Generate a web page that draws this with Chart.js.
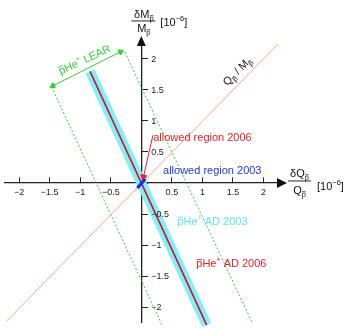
<!DOCTYPE html>
<html>
<head>
<meta charset="utf-8">
<script src="https://cdn.jsdelivr.net/npm/chart.js@4/dist/chart.umd.min.js"></script>
<style>
html,body{margin:0;padding:0;background:#fff;}
canvas{display:block;}
</style>
</head>
<body>
<canvas id="c" width="354" height="328"></canvas>
<script>
// ---- data ----
const xTicks = [-2, -1.5, -1, -0.5, 0, 0.5, 1, 1.5, 2];
const xTickLabels = ['−2', '−1.5', '−1', '−0.5', '', '0.5', '1', '1.5', '2'];
const yTicks = [-2, -1.5, -1, -0.5, 0, 0.5, 1, 1.5, 2];
const yTickLabels = ['−2', '−1.5', '−1', '−0.5', '', '0.5', '1', '1.5', '2'];

const qmLineX = [-2.21, 2.24];
const qmLineY = [-2.23, 2.24];
const ad2006X = [-0.84, 1.07];
const ad2006Y = [1.80, -2.29];
const learLeftX = [-1.47, 0.34];
const learLeftY = [1.55, -2.29];
const learRightX = [-0.27, 1.82];
const learRightY = [2.11, -2.26];
const learArrowX = [-1.45, -0.34];
const learArrowY = [1.565, 2.115];
const allowed2003X = [-0.065, 0.065];
const allowed2003Y = [-0.08, 0.065];
const pointer2006X = [0.19, 0.035];
const pointer2006Y = [0.77, 0.10];

const pts = (xs, ys) => xs.map((x, i) => ({x: x, y: ys[i]}));

const FONT = '"Liberation Sans", Arial, Helvetica, sans-serif';

function rich(ctx, segs, x, y, align) {
  let w = 0;
  for (const g of segs) {
    ctx.font = g.s + 'px ' + FONT;
    g.w = ctx.measureText(g.t).width;
    w += g.w;
  }
  let cx = align === 'center' ? x - w / 2 : x;
  for (const g of segs) {
    const dy = g.dy || 0;
    ctx.font = g.s + 'px ' + FONT;
    ctx.fillText(g.t, cx, y + dy);
    if (g.bar) {
      ctx.fillRect(cx + g.w * 0.08, y + dy - g.s * 0.74, g.w * 0.84, Math.max(0.8, g.s * 0.08));
    }
    cx += g.w;
  }
  return w;
}

const overlay = {
  id: 'overlay',
  afterDraw(chart) {
    const ctx = chart.ctx;
    const xs = chart.scales.x, ys = chart.scales.y;
    const X = v => xs.getPixelForValue(v), Y = v => ys.getPixelForValue(v);
    const x0 = X(0), y0 = Y(0);
    ctx.save();
    // axis arrows
    ctx.fillStyle = '#111';
    const ca = chart.chartArea;
    ctx.beginPath();
    ctx.moveTo(ca.right - 3, y0 - 5);
    ctx.lineTo(ca.right + 7, y0);
    ctx.lineTo(ca.right - 3, y0 + 5);
    ctx.closePath(); ctx.fill();
    ctx.beginPath();
    ctx.moveTo(x0 - 4.5, ca.top + 2);
    ctx.lineTo(x0, ca.top - 8);
    ctx.lineTo(x0 + 4.5, ca.top + 2);
    ctx.closePath(); ctx.fill();

    // y tick labels
    ctx.fillStyle = '#222';
    ctx.font = '9px ' + FONT;
    ctx.textAlign = 'left';
    ctx.textBaseline = 'middle';
    yTicks.forEach((v, i) => {
      if (yTickLabels[i]) ctx.fillText(yTickLabels[i], x0 + 10, Y(v) + 0.5);
    });

    ctx.textBaseline = 'alphabetic';
    // y axis title
    ctx.fillStyle = '#111';
    rich(ctx, [{t: 'δM', s: 11}, {t: 'p', s: 7.5, dy: 3, bar: true}], x0 + 2.5, 18, 'center');
    ctx.fillRect(x0 - 10, 20.5, 24, 0.9);
    rich(ctx, [{t: 'M', s: 11}, {t: 'p', s: 7.5, dy: 3, bar: true}], x0 + 2.5, 32, 'center');
    rich(ctx, [{t: '[10', s: 11}, {t: '−6', s: 7.5, dy: -5}, {t: ']', s: 11}], x0 + 19, 26, 'left');

    // x axis title
    rich(ctx, [{t: 'δQ', s: 11}, {t: 'p', s: 7.5, dy: 3, bar: true}], 299.5, 177, 'center');
    ctx.fillRect(288, 180.5, 23, 0.9);
    rich(ctx, [{t: 'Q', s: 11}, {t: 'p', s: 7.5, dy: 3, bar: true}], 299.5, 194, 'center');
    rich(ctx, [{t: '[10', s: 11}, {t: '−6', s: 7.5, dy: -5}, {t: ']', s: 11}], 317, 190, 'left');

    // annotations
    ctx.fillStyle = '#e8202a';
    rich(ctx, [{t: 'allowed region 2006', s: 11}], X(0.195), Y(0.67), 'left');
    ctx.fillStyle = '#1f36f0';
    rich(ctx, [{t: 'allowed region 2003', s: 11}], X(0.355), Y(0.145), 'left');
    ctx.fillStyle = '#5fe6fb';
    rich(ctx, [{t: 'p', s: 11, bar: true}, {t: 'He', s: 11}, {t: '+', s: 7, dy: -5}, {t: ' AD 2003', s: 11}], X(0.59), Y(-0.675), 'left');
    ctx.fillStyle = '#e8202a';
    rich(ctx, [{t: 'p', s: 11, bar: true}, {t: 'He', s: 11}, {t: '+', s: 7, dy: -5}, {t: ' AD 2006', s: 11}], X(0.9), Y(-1.355), 'left');

    // rotated: LEAR
    ctx.fillStyle = '#2fd12f';
    ctx.save();
    ctx.translate(X(-0.905), Y(1.935));
    ctx.rotate(-25 * Math.PI / 180);
    rich(ctx, [{t: 'p', s: 11, bar: true}, {t: 'He', s: 11}, {t: '+', s: 7, dy: -5}, {t: ' LEAR', s: 11}], 0, 0, 'center');
    ctx.restore();

    // rotated: Q/M
    ctx.fillStyle = '#111';
    ctx.save();
    ctx.translate(X(1.61), Y(1.76));
    ctx.rotate(-45 * Math.PI / 180);
    rich(ctx, [{t: 'Q', s: 11}, {t: 'p', s: 7.5, dy: 3, bar: true}, {t: ' / M', s: 11}, {t: 'p', s: 7.5, dy: 3, bar: true}], 0, 0, 'center');
    ctx.restore();

    ctx.restore();
  }
};

const line = (data, color, width, extra) => Object.assign({
  data: data, showLine: true, borderColor: color, backgroundColor: color,
  borderWidth: width, pointRadius: 0, pointHoverRadius: 0, fill: false, clip: false
}, extra || {});

new Chart(document.getElementById('c').getContext('2d'), {
  type: 'scatter',
  data: {
    datasets: [
      line(pts(ad2006X, ad2006Y), '#80f0ff', 10, {order: 10, borderCapStyle: 'butt'}),
      line(pts(learLeftX, learLeftY), '#33cc33', 1, {order: 8, borderDash: [2, 2]}),
      line(pts(learRightX, learRightY), '#33cc33', 1, {order: 8, borderDash: [2, 2]}),
      line(pts(qmLineX, qmLineY), '#ffa585', 1, {order: 7}),
      line(pts(ad2006X, ad2006Y), '#dd1111', 1.6, {order: 5}),
      line(pts(learArrowX, learArrowY), '#33cc33', 1, {order: 4, pointStyle: 'triangle', pointRadius: [3.2, 3.2], pointRotation: [245, 65]}),
      line(pts(pointer2006X, pointer2006Y), '#e8202a', 1, {order: 2, pointStyle: 'triangle', pointRadius: [0, 3.5], pointRotation: [0, 193]}),
      line(pts(allowed2003X, allowed2003Y), '#1030ff', 3.2, {order: 1})
    ]
  },
  options: {
    responsive: false,
    animation: false,
    events: [],
    layout: {padding: {left: 0, right: 74, top: 44, bottom: 6}},
    plugins: {legend: {display: false}, tooltip: {enabled: false}},
    scales: {
      x: {
        type: 'linear', min: -2.24, max: 2.27, position: {y: 0}, z: 1,
        afterBuildTicks: s => { s.ticks = xTicks.map(v => ({value: v})); },
        ticks: {callback: (v, i) => xTickLabels[i], font: {family: FONT, size: 9}, color: '#222', padding: 10, maxRotation: 0, autoSkip: false},
        grid: {drawOnChartArea: false, tickLength: -6, color: '#222', tickWidth: 1},
        border: {color: '#222', width: 1.3}
      },
      y: {
        type: 'linear', min: -2.24, max: 2.24, position: {x: 0}, z: 1,
        afterBuildTicks: s => { s.ticks = yTicks.map(v => ({value: v})); },
        ticks: {display: false},
        grid: {drawOnChartArea: false, tickLength: -7, color: '#222', tickWidth: 1},
        border: {color: '#222', width: 1.3}
      }
    }
  },
  plugins: [overlay]
});
</script>
</body>
</html>
